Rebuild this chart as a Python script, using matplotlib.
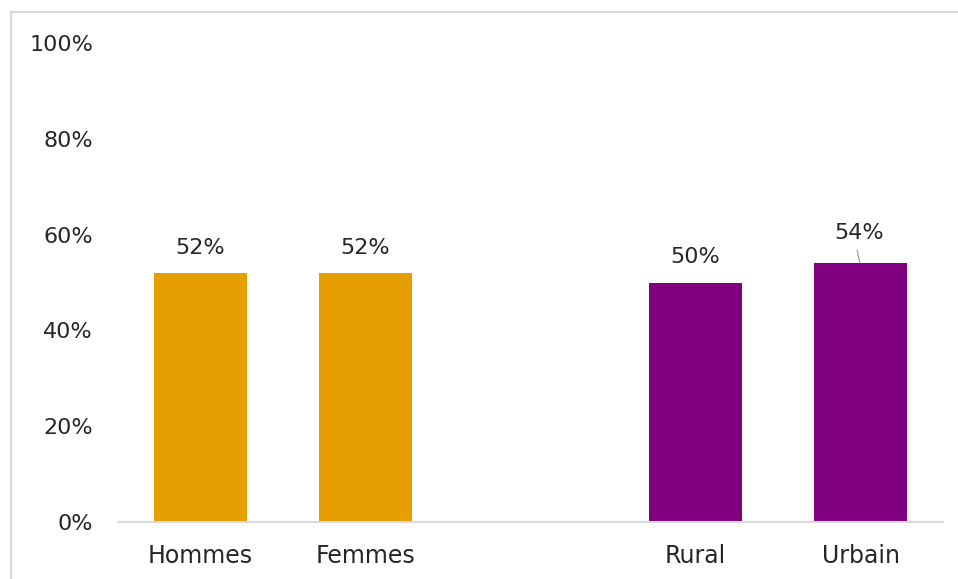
import matplotlib.pyplot as plt
from matplotlib.patches import Rectangle

# data (empty slot between the two groups)
categories = ['Hommes', 'Femmes', '', 'Rural', 'Urbain']
values = [0.52, 0.52, None, 0.50, 0.54]
colors = ['#E69F00', '#E69F00', None, '#800080', '#800080']
y_ticks = [0, 0.2, 0.4, 0.6, 0.8, 1.0]

plt.rcParams['font.family'] = ['DejaVu Sans']
txt = '#262626'

fig = plt.figure(figsize=(9.58, 5.79), dpi=100)
W, H = 958, 579
ax = fig.add_axes([118 / W, (H - 522) / H, (943 - 118) / W, (522 - 43) / H])

# outer chart frame (light gray, runs off right and bottom)
fig.patches.append(Rectangle((10.5 / W, -0.1), 1.2, (H - 12.5) / H + 0.1,
                             transform=fig.transFigure, fill=False,
                             edgecolor='#d9d9d9', linewidth=1.5))

for i, (v, c) in enumerate(zip(values, colors)):
    if v is None:
        continue
    ax.bar(i, v, width=0.56, color=c, zorder=2)
    if categories[i] == 'Urbain':
        ax.text(i - 0.01, v + 0.064, f'{v:.0%}', ha='center', va='center',
                fontsize=16, color=txt)
        ax.plot([i - 0.02, i - 0.005], [v + 0.027, v + 0.002], color='#a6a6a6', lw=1)
    else:
        ax.text(i, v + 0.053, f'{v:.0%}', ha='center', va='center',
                fontsize=16, color=txt)

ax.set_xlim(-0.5, 4.5)
ax.set_ylim(0, 1)
ax.set_xticks(range(len(categories)))
ax.set_xticklabels(categories, fontsize=17, color=txt)
ax.set_yticks(y_ticks)
ax.set_yticklabels([f'{t:.0%}' for t in y_ticks], fontsize=16, color=txt)
ax.tick_params(length=0, axis='x', pad=16)
ax.tick_params(length=0, axis='y', pad=18)

for s in ['top', 'right', 'left']:
    ax.spines[s].set_visible(False)
ax.spines['bottom'].set_color('#d9d9d9')
ax.spines['bottom'].set_linewidth(1.5)

fig.savefig('out.png', dpi=100)
